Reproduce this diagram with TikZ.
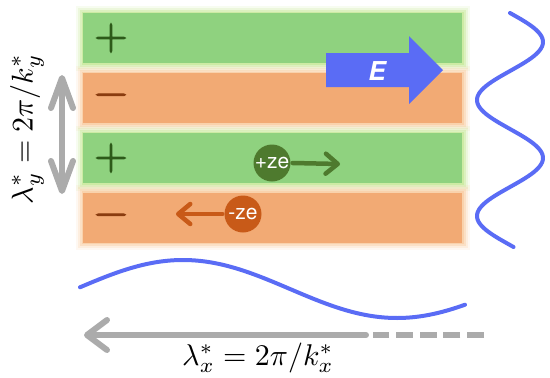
\documentclass[tikz,border=0pt]{standalone}
\usepackage{fontspec}
\newfontfamily\heros{TeX Gyre Heros}
\newfontfamily\signfont[FakeBold=3]{Latin Modern Roman}
\usetikzlibrary{arrows.meta}
\definecolor{gfill}{HTML}{8FD27F}
\definecolor{gglow}{HTML}{C9EA9D}
\definecolor{ofill}{HTML}{F2AA74}
\definecolor{oglow}{HTML}{F9CFA6}
\definecolor{plusc}{HTML}{2D5A19}
\definecolor{minusc}{HTML}{8A3C0F}
\definecolor{cgreen}{HTML}{4E7A2E}
\definecolor{corange}{HTML}{C85A18}
\definecolor{wave}{HTML}{5A6CF5}
\definecolor{grayc}{HTML}{ABABAB}
\tikzset{
  stripebase/.style={rectangle, inner sep=0pt, outer sep=0pt,
    minimum width=379pt, minimum height=50pt},
  gstripe/.style={stripebase, fill=gfill,
    preaction={draw=gglow, line width=15pt, opacity=0.15, rounded corners=8pt},
    preaction={draw=gglow, line width=11pt, opacity=0.25, rounded corners=6pt},
    preaction={draw=gglow, line width=7pt, opacity=0.45, rounded corners=4pt},
    preaction={draw=gglow, line width=3pt, opacity=0.8, rounded corners=2pt}},
  ostripe/.style={stripebase, fill=ofill,
    preaction={draw=oglow, line width=15pt, opacity=0.15, rounded corners=8pt},
    preaction={draw=oglow, line width=11pt, opacity=0.25, rounded corners=6pt},
    preaction={draw=oglow, line width=7pt, opacity=0.45, rounded corners=4pt},
    preaction={draw=oglow, line width=3pt, opacity=0.8, rounded corners=2pt}},
  signtext/.style={inner sep=0pt, font=\signfont\fontsize{45}{45}\selectfont},
  charge/.style={circle, inner sep=0pt, minimum size=37pt, text=white,
    font=\heros\fontsize{21}{21}\selectfont},
  chargearrow/.style={line width=4.5pt, line cap=round,
    -{Straight Barb[length=12pt, width=20pt, line cap=round, line join=round]}},
  wavey/.style={draw=wave, line width=4pt, line cap=round},
  grayline/.style={draw=grayc, line width=6pt},
}
\begin{document}
\begin{tikzpicture}[x=1pt, y=-1pt]
\useasboundingbox (0,0) rectangle (550,378);
% stripes
\node[gstripe] (s1) at (272.5,38) {};
\node[ostripe] (s2) at (272.5,98) {};
\node[gstripe] (s3) at (272.5,158) {};
\node[ostripe] (s4) at (272.5,217.5) {};
% signs
\node[signtext, text=plusc] (p1) at (111,38) {+};
\node[signtext, text=minusc] (m1) at (111,100) {−};
\node[signtext, text=plusc] (p2) at (111,158) {+};
\node[signtext, text=minusc] (m2) at (111,220) {−};
% E arrow
\fill[wave] (326,53) -- (409,53) -- (409,36) -- (443,70) -- (409,104) -- (409,87) -- (326,87) -- cycle;
\node[text=white, font=\heros\bfseries\itshape\fontsize{26}{26}\selectfont] (E) at (377,71) {E};
% charges
\node[charge, fill=cgreen] (pze) at (272,163) {+ze};
\coordinate (pzeend) at (340,164);
\draw[chargearrow, draw=cgreen] (pze.east) ++(2,0) -- (pzeend);
\node[charge, fill=corange] (mze) at (243,214) {-ze};
\coordinate (mzeend) at (176,214);
\draw[chargearrow, draw=corange] (mze.west) ++(-2,0) -- (mzeend);
% waves
\draw[wavey] plot[domain=13:247, samples=120, smooth] ({510+33*sin(360/116*(\x-13))}, \x);
\draw[wavey] plot[domain=80:465, samples=120, smooth] (\x, {289-29*cos(360/428*(\x-183))});
% gray arrows
\coordinate (hxs) at (366,335);
\coordinate (hxe) at (84,335);
\coordinate (hds) at (484,335);
\coordinate (hde) at (373,335);
\draw[grayline, line cap=round, -{Straight Barb[length=20pt, width=30pt, line cap=round, line join=round]}] (hxs) -- (hxe);
\draw[grayline, dash pattern=on 17pt off 6.75pt] (hds) -- (hde);
\coordinate (vt) at (62,75);
\coordinate (vb) at (62,194);
\draw[grayline, line cap=round, {Straight Barb[length=30pt, width=22pt, line cap=round, line join=round]}-{Straight Barb[length=30pt, width=22pt, line cap=round, line join=round]}] (vt) -- (vb);
% labels
\node[rotate=90, inner sep=0pt] (ly) at (27,129) {\scalebox{3}{$\lambda_y^* = 2\pi/k_y^*$}};
\node[inner sep=0pt] (lx) at (258,358) {\scalebox{3}{$\lambda_x^* = 2\pi/k_x^*$}};
\end{tikzpicture}
\end{document}
